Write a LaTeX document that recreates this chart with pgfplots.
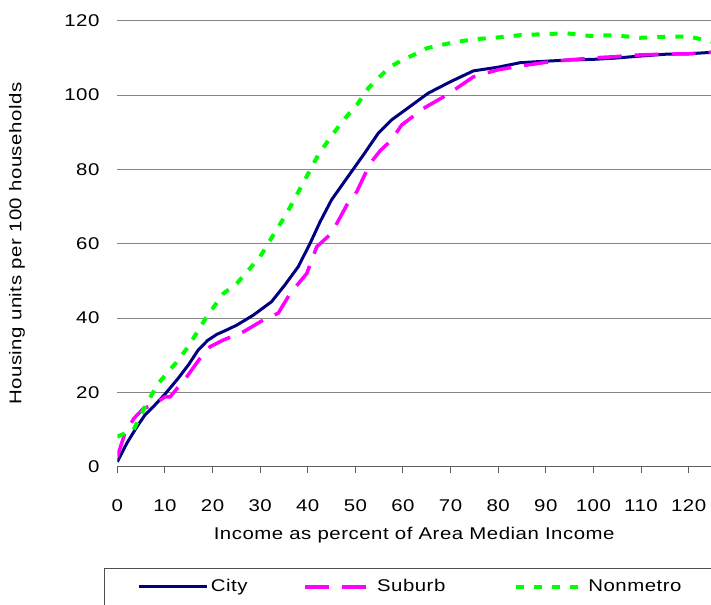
\documentclass[border=0pt]{standalone}
\usepackage{fontspec}
\setmainfont{Liberation Sans}[FakeStretch=1.2, LetterSpace=3]
\usepackage{pgfplots}
\pgfplotsset{compat=1.18}
\definecolor{citycol}{RGB}{0,0,128}
\definecolor{subcol}{RGB}{255,0,255}
\definecolor{noncol}{RGB}{0,255,0}
\definecolor{gridcol}{RGB}{134,134,134}
\begin{document}
\fontsize{17bp}{20bp}\selectfont
\begin{tikzpicture}
\begin{axis}[
  at={(117.3bp,138.3bp)}, anchor=south west,
  scale only axis, width=593.7bp, height=446bp,
  xmin=0, xmax=124.7, ymin=0, ymax=120,
  xtick={0,10,...,120}, ytick={0,20,...,120},
  axis x line*=bottom, axis y line*=left,
  y axis line style={draw=none},
  x axis line style={draw=gridcol!70!black, line width=1bp},
  xtick style={draw=gridcol!70!black, line width=1bp},
  ytick style={draw=none},
  xtick align=outside, major tick length=6bp,
  ymajorgrids, grid style={draw=gridcol, line width=1bp},
  tick label style={font=\fontsize{17bp}{20bp}\selectfont},
  /pgf/number format/assume math mode=true,
  yticklabel style={xshift=-12bp},
  xticklabel style={yshift=-21bp},
  xlabel={Income as percent of Area Median Income},
  ylabel={Housing units per 100 households},
  label style={font=\fontsize{17bp}{20bp}\selectfont},
  xlabel style={at={(axis description cs:0.5,-0.1530)}, anchor=center},
  ylabel style={at={(axis description cs:-0.169,0.5)}, anchor=center, rotate=0},
  legend columns=3,
  legend style={draw=none, fill=none, inner sep=0pt, at={(axis description cs:0.0344,-0.2697)}, anchor=west,
    font=\fontsize{17bp}{20bp}\selectfont,
    /tikz/column 2/.style={column sep=54bp},
    /tikz/column 4/.style={column sep=67bp}},
  legend image code/.code={\draw[#1] (0bp,0bp) -- (68bp,0bp);},
  clip=true,
]
\addplot[citycol, line width=3bp, line join=round] coordinates {
(0,1.3) (2,6.3) (4,10.5) (5.8,13.9) (7.9,16.6) (10,19.5) (12.8,23.8) (15,27.5) (17,31.4) (19,34) (20.9,35.6) (23,36.8) (25.1,38.1) (28.6,40.8) (32.4,44.4) (35.2,48.9) (38,53.8) (40.5,60.1) (42.6,65.9) (45,71.8) (48.2,77.6) (51.7,83.9) (54.8,89.7) (57.6,93.3) (60.5,96) (65.3,100.5) (70,103.6) (74.8,106.5) (80,107.5) (84.6,108.7) (90,109.1) (94.4,109.4) (100,109.6) (104.2,109.9) (110,110.5) (115.4,111) (120,111.1) (125,111.5)
};
\addlegendentry{City}
\addplot[subcol, line width=3.5bp, dash pattern=on 24bp off 13bp] coordinates {
(0,2.7) (1.6,9) (3.5,13) (5.5,15.7) (7.6,16.6) (10,18.8) (11.1,18.8) (14.6,24.2) (17.4,29.2) (19.5,32.3) (22.3,34.1) (26.5,36.3) (30.7,39.5) (33.8,41.3) (36.3,46.6) (39.8,52) (41.9,59.2) (45,62.8) (48.2,70.4) (50.3,74) (53.1,81.6) (55.2,85) (57.6,87.9) (59.7,91.9) (64.3,96.4) (69.2,100) (74.8,104.9) (80,106.8) (84.6,107.8) (90,108.8) (94.4,109.4) (100,110) (104.2,110.3) (109.8,110.8) (115.4,111) (120,111.1) (125,111.5)
};
\addlegendentry{Suburb}
\addplot[noncol, line width=4bp, dash pattern=on 8bp off 10bp] coordinates {
(0,8.1) (3.4,9.9) (6.2,17.1) (8.6,22.4) (10.4,25.1) (12.5,28.2) (14.9,32.3) (18.8,40.4) (22.3,46.6) (25.1,49.3) (30,56.5) (31.7,60.1) (35.6,68.2) (40.5,79.8) (42.2,83.9) (45.4,89.7) (47.8,93.7) (50.3,97.3) (52.7,101.8) (55.2,105) (57.3,107.6) (60,109.5) (63.6,111.6) (65,112.6) (70,114) (74.8,115) (80,115.5) (84.6,116.1) (90,116.4) (94.4,116.6) (99.3,115.9) (104.2,116.1) (109.8,115.4) (115.4,115.7) (120.3,115.7) (125,114.3)
};
\addlegendentry{Nonmetro}
\end{axis}
\draw[gridcol!60!black, line width=1bp] (104bp,-10bp) rectangle (740bp,36bp);
\pgfresetboundingbox
\useasboundingbox (0,0) rectangle (711bp,605bp);
\end{tikzpicture}
\end{document}
